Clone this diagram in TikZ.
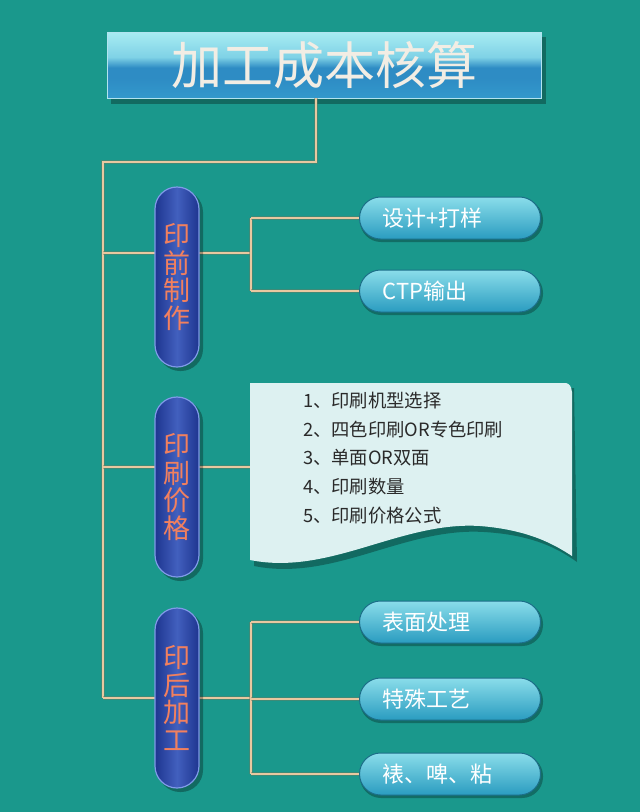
\documentclass[tikz,border=0pt]{standalone}
\usepackage{fontspec}
\newfontfamily\cjk{Noto Sans CJK SC}
\usetikzlibrary{calc}
\definecolor{bg}{HTML}{1A988C}
\definecolor{lineL}{HTML}{E8C8A0}
\definecolor{lineD}{HTML}{6E7A5E}
\definecolor{capD}{HTML}{1E3590}
\definecolor{capM}{HTML}{4260BE}
\definecolor{capE}{HTML}{7F9AE8}
\definecolor{capT}{HTML}{F2805E}
\definecolor{pillT}{HTML}{8ADDEA}
\definecolor{pillB}{HTML}{2A9CC0}
\definecolor{pillE}{HTML}{1C6E88}
\definecolor{docF}{HTML}{DDF1F1}
\definecolor{docT}{HTML}{2A2A2A}
\definecolor{titleT}{HTML}{F2EDE4}
\definecolor{tb0}{HTML}{A8ECF2}
\definecolor{tb1}{HTML}{7FD2E6}
\definecolor{tb2}{HTML}{2E8CC4}
\definecolor{tb3}{HTML}{3399CC}
\pgfdeclareverticalshading{titleshade}{100bp}{color(0bp)=(tb3); color(25bp)=(tb3); color(40bp)=(tb2); color(48bp)=(tb2); color(56bp)=(tb1); color(75bp)=(tb0); color(100bp)=(tb0)}
\tikzset{
  conn/.style={draw=lineL, line width=2.2pt, preaction={draw=lineD, line width=3.6pt, opacity=0.45}},
  capsule/.style={rectangle, rounded corners=22pt, minimum width=44pt, minimum height=180pt,
    left color=capD, right color=capD, middle color=capM, draw=capE, line width=1.2pt,
    text=capT, font=\cjk\fontsize{27}{27.5}\selectfont, align=center, inner sep=0pt},
  pill/.style={rectangle, rounded corners=21pt, minimum height=42pt, inner xsep=23pt,
    text width=135pt, align=left, top color=pillT, bottom color=pillB, draw=pillE, line width=1pt,
    text=white, font=\cjk\fontsize{22}{26}\selectfont},
  shadowpill/.style={fill=black, opacity=0.28, rounded corners=21pt},
}
\begin{document}
\begin{tikzpicture}[x=1pt, y=-1pt]
\useasboundingbox (0,0) rectangle (640,812);
\fill[bg] (0,0) rectangle (640,812);

% coordinates of the connector network
\coordinate (j0) at (316,162);
\coordinate (jl) at (103,162);
\coordinate (k1) at (103,253);
\coordinate (k2) at (103,467);
\coordinate (k3) at (103,698);
\coordinate (b1) at (251,253);
\coordinate (b3) at (251,698);
\coordinate (docw) at (250,467);

% title shadow and title
\fill[black, opacity=0.3] (111,37) rectangle (546,104);
\node[rectangle, minimum width=434pt, minimum height=66pt, inner sep=0pt,
  shading=titleshade, draw=tb1!60!white, line width=0.8pt,
  text=titleT, font=\cjk\fontsize{51}{56}\selectfont] (title) at (324,65) {加工成本核算};

% pills (shadows first)
\foreach \y in {218,291,622,699,774} {
  \fill[shadowpill] (360,\y-19) rectangle (543,\y+24);
}
\node[pill] (p1) at (450,218) {设计+打样};
\node[pill] (p2) at (450,291) {CTP输出};
\node[pill] (p3) at (450,622) {表面处理};
\node[pill] (p4) at (450,699) {特殊工艺};
\node[pill] (p5) at (450,774) {裱、啤、粘};

% document shape
\fill[black, opacity=0.3] (254,390) -- (574,388) -- (577,562)
  .. controls (560,550) and (535,535) .. (484,532)
  .. controls (404,527) and (334,582) .. (254,566) -- cycle;
\fill[docF] (250,383) -- (566,383) .. controls (570,384) and (571,386) .. (572,392) -- (572,556)
  .. controls (555,545) and (530,530) .. (480,526)
  .. controls (400,521) and (330,576) .. (250,560) -- cycle;
\node[anchor=north west, align=left, text=docT, inner sep=0pt,
  font=\cjk\fontsize{18.3}{28.7}\selectfont] (doctext) at (303,392)
  {1、印刷机型选择\\2、四色印刷OR专色印刷\\3、单面OR双面\\4、印刷数量\\5、印刷价格公式};

% connectors
\draw[conn] (title.south -| j0) -- (j0) -- (jl) -- (k3);
\draw[conn] (k1) -- (b1);
\draw[conn] (b1 |- p1.west) -- (b1 |- p2.west);
\draw[conn] (b1 |- p1.west) -- (p1.west);
\draw[conn] (b1 |- p2.west) -- (p2.west);
\draw[conn] (k2) -- (docw);
\draw[conn] (k3) -- (b3);
\draw[conn] (b3 |- p3.west) -- (b3 |- p5.west);
\draw[conn] (b3 |- p3.west) -- (p3.west);
\draw[conn] (b3 |- p4.west) -- (p4.west);
\draw[conn] (b3 |- p5.west) -- (p5.west);

% capsules
\foreach \y in {277,487,698} {
  \fill[black, opacity=0.3, rounded corners=22pt] (158,\y-87) rectangle (203,\y+94);
}
\node[capsule] (c1) at (177,277) {印\\前\\制\\作};
\node[capsule] (c2) at (177,487) {印\\刷\\价\\格};
\node[capsule] (c3) at (177,698) {印\\后\\加\\工};
\end{tikzpicture}
\end{document}
